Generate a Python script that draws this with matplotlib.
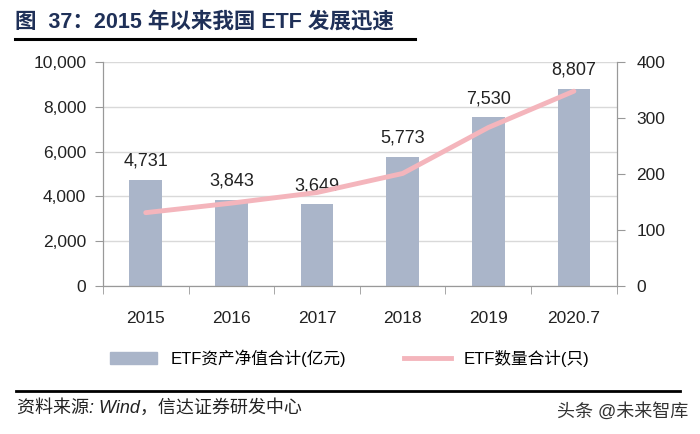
import numpy as np
import matplotlib.pyplot as plt
from matplotlib.lines import Line2D
from matplotlib.patches import Patch

plt.rcParams['font.family'] = ['Liberation Sans', 'Noto Sans CJK SC', 'DejaVu Sans']

# data
years = ['2015', '2016', '2017', '2018', '2019', '2020.7']
aum = [4731, 3843, 3649, 5773, 7530, 8807]
count = [131, 148, 167, 201, 283, 348]

fig = plt.figure(figsize=(7, 4.34), dpi=100)
ax = fig.add_axes([0.147, 0.341, 0.734, 0.516])
ax2 = ax.twinx()

x = np.arange(len(years))
ax.bar(x, aum, width=0.38, color='#aab5c9', zorder=2)
for xi, v in zip(x, aum):
    ax.text(xi, v + 450, f'{v:,}', ha='center', va='bottom', fontsize=13, color='#222222')

ax2.plot(x, count, color='#f4b5bc', lw=3.5, solid_capstyle='round', zorder=3)

ax.set_ylim(0, 10000)
ax.set_yticks(range(0, 10001, 2000))
ax.set_yticklabels([f'{v:,}' for v in range(0, 10001, 2000)], fontsize=12.5, color='#222222')
ax2.set_ylim(0, 400)
ax2.set_yticks(range(0, 401, 100))
ax2.tick_params(axis='y', labelsize=12.5, labelcolor='#222222')
ax.set_xlim(-0.5, len(years) - 0.5)
ax.set_xticks(x)
ax.set_xticklabels(years, fontsize=12.5, color='#222222')
ax.tick_params(axis='x', length=0, pad=18)
ax.set_xticks(np.arange(-0.5, len(years)), minor=True)
ax.tick_params(axis='x', which='minor', length=6, color='#999999', direction='out')
ax.tick_params(axis='y', length=6, color='#999999', direction='out', pad=6)
ax2.tick_params(axis='y', length=6, color='#999999', direction='out', pad=8)
ax.grid(axis='y', color='#d9d9d9', lw=1, zorder=0)
ax.set_axisbelow(True)
for a in (ax, ax2):
    a.spines['top'].set_visible(False)
    for s in ('left', 'right', 'bottom'):
        a.spines[s].set_color('#999999')

# legend
handles = [Patch(color='#aab5c9', label='ETF资产净值合计(亿元)'),
           Line2D([0], [0], color='#f4b5bc', lw=3.5, label='ETF数量合计(只)')]
fig.legend(handles=handles, loc='center', bbox_to_anchor=(0.5, 0.175), ncol=2,
           frameon=False, fontsize=12, handlelength=2.8, columnspacing=3.5)

# title and footer
fig.text(0.022, 0.949, '图  37：2015 年以来我国 ETF 发展迅速', fontsize=15.5,
         fontweight='bold', color='#1f3058', va='center')
fig.add_artist(Line2D([0.021, 0.593], [0.910, 0.910], color='black', lw=2.2))
fig.add_artist(Line2D([0.023, 0.971], [0.099, 0.099], color='black', lw=2))
fig.text(0.024, 0.06, '资料来源: Wind，信达证券研发中心', fontsize=13,
         style='italic', color='#222222', va='center')
fig.text(0.983, 0.05, '头条 @未来智库', fontsize=13, color='#333333',
         ha='right', va='center')

fig.savefig('out.png', dpi=100)
